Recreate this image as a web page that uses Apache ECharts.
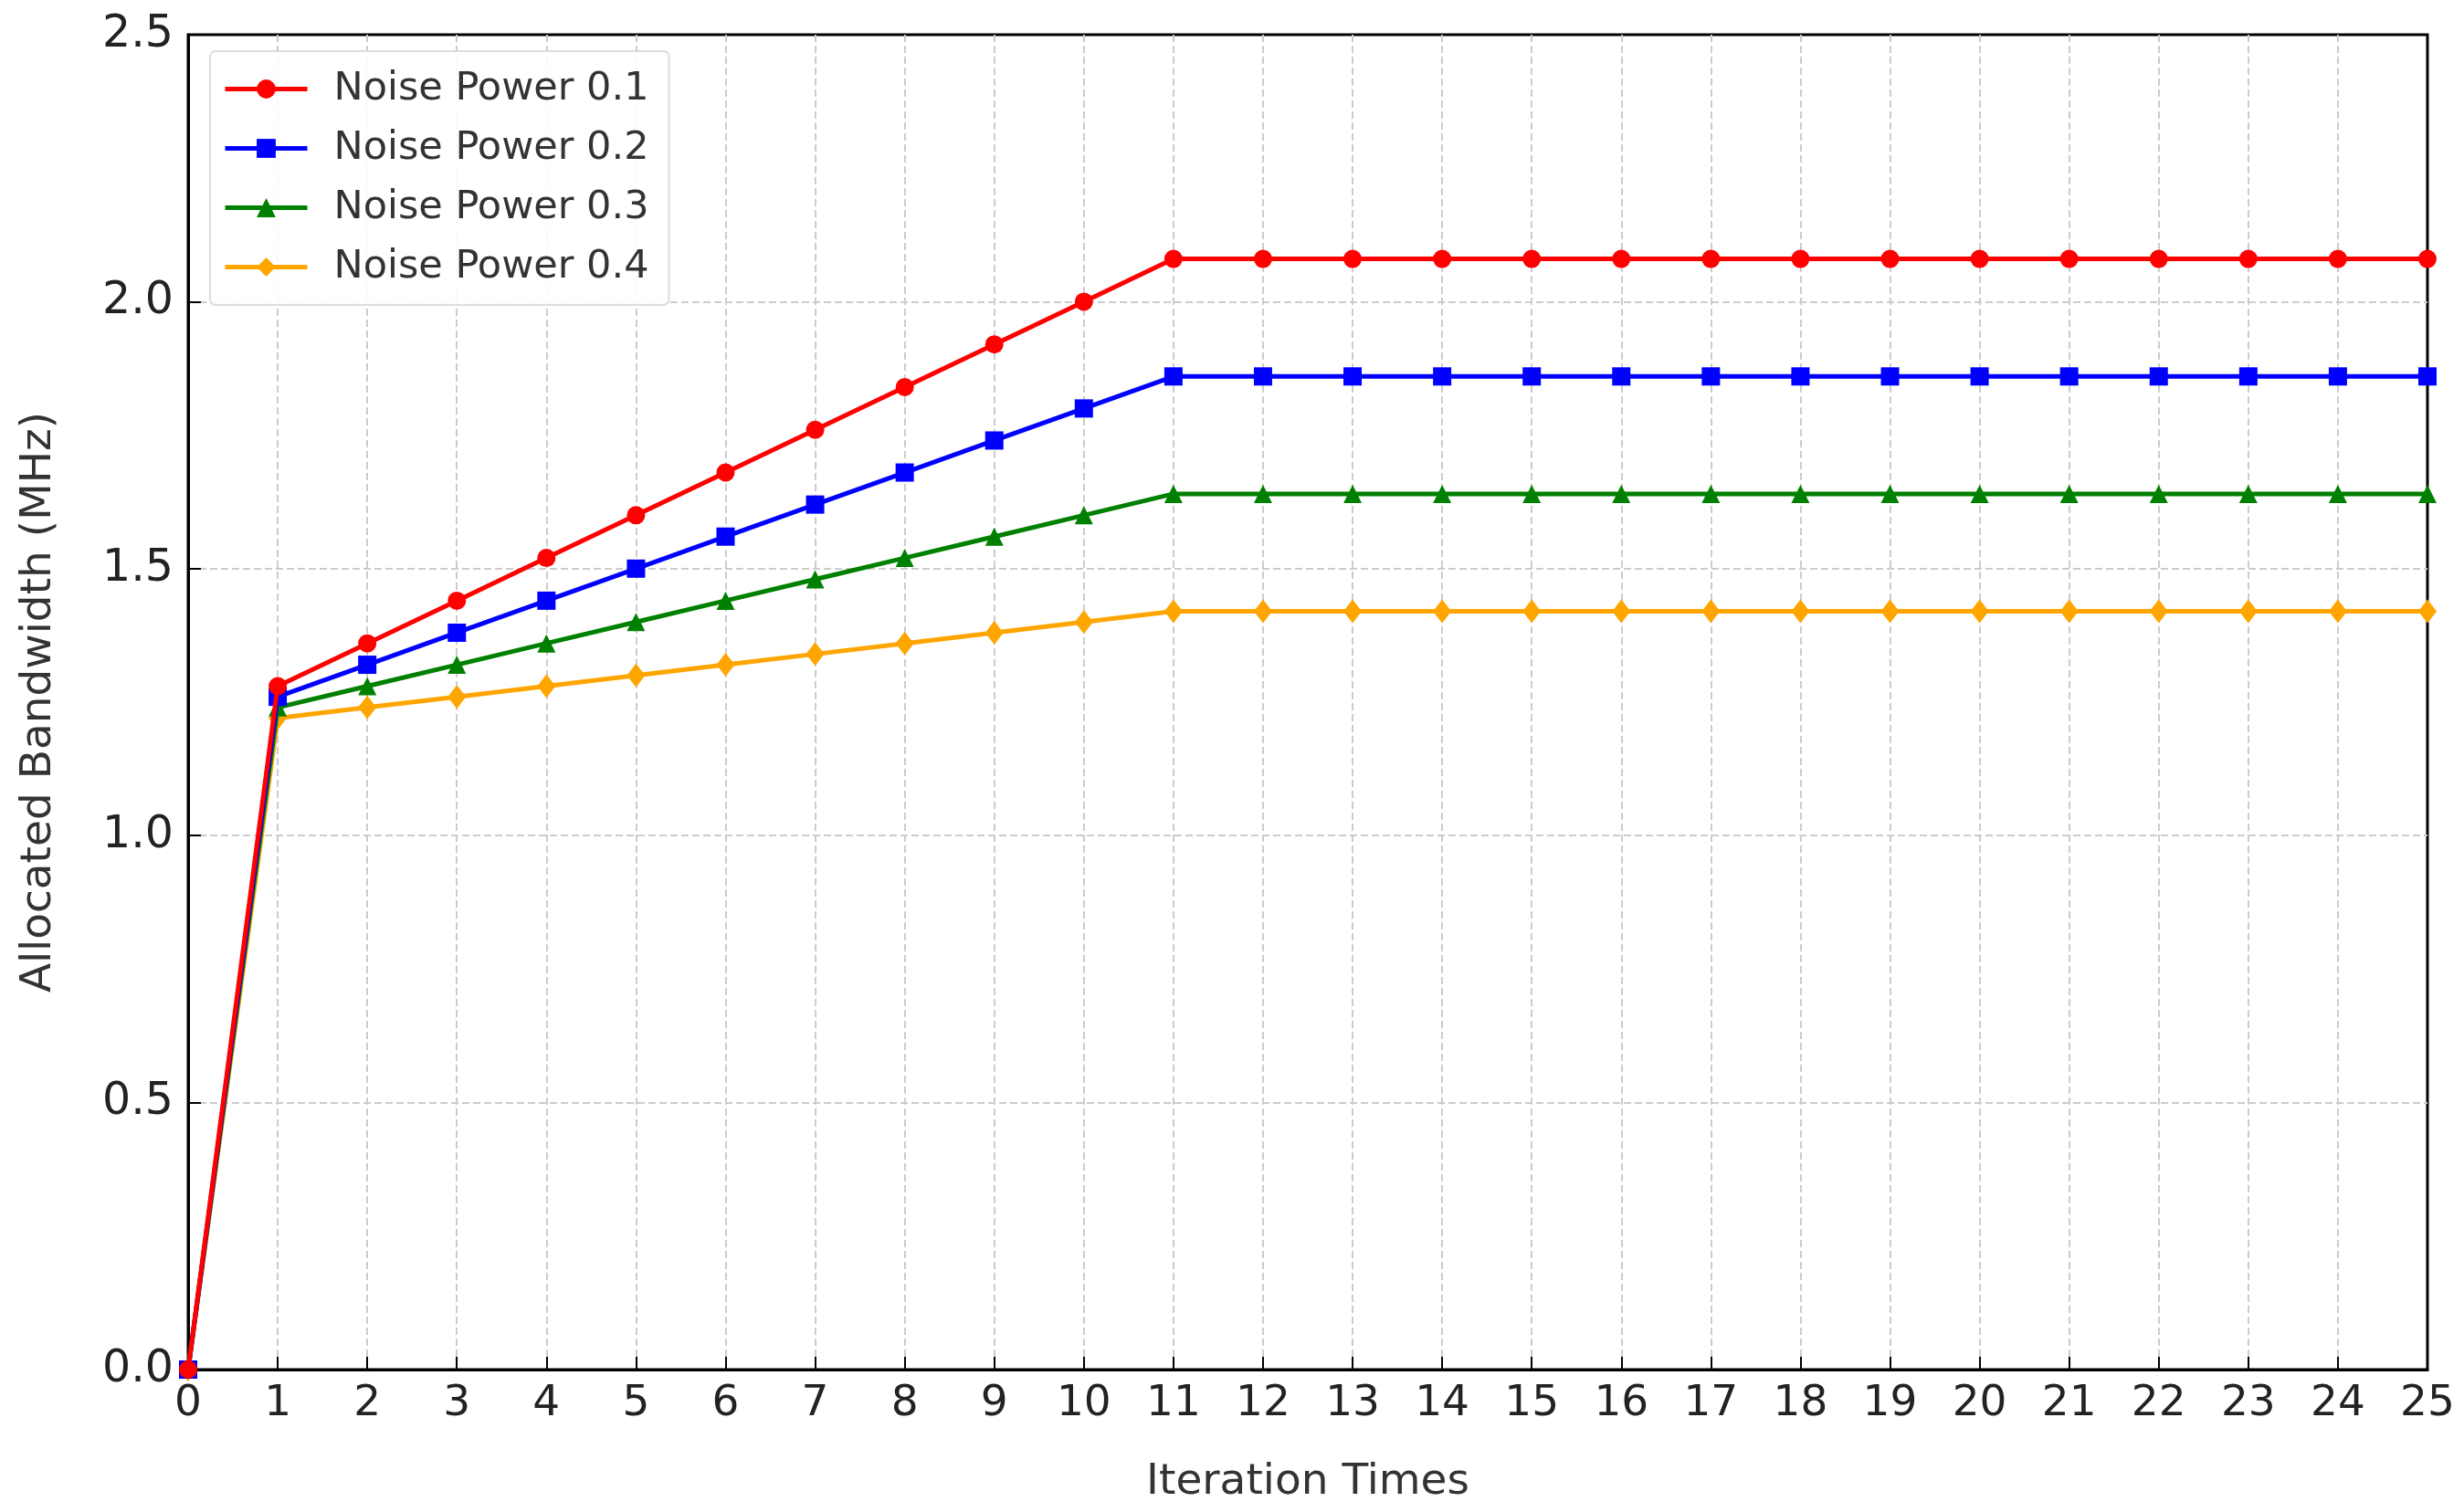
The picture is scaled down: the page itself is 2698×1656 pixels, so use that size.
<!DOCTYPE html>
<html>
<head>
<meta charset="utf-8">
<script src="https://cdn.jsdelivr.net/npm/echarts@6/dist/echarts.min.js"></script>
<style>html,body{margin:0;padding:0;background:#fff}#chart{width:2698px;height:1656px}</style>
</head>
<body>
<div id="chart"></div>
<script>
const iterations = [0,1,2,3,4,5,6,7,8,9,10,11,12,13,14,15,16,17,18,19,20,21,22,23,24,25];
const noise01 = [0,1.28,1.36,1.44,1.52,1.60,1.68,1.76,1.84,1.92,2.00,2.08,2.08,2.08,2.08,2.08,2.08,2.08,2.08,2.08,2.08,2.08,2.08,2.08,2.08,2.08];
const noise02 = [0,1.26,1.32,1.38,1.44,1.50,1.56,1.62,1.68,1.74,1.80,1.86,1.86,1.86,1.86,1.86,1.86,1.86,1.86,1.86,1.86,1.86,1.86,1.86,1.86,1.86];
const noise03 = [0,1.24,1.28,1.32,1.36,1.40,1.44,1.48,1.52,1.56,1.60,1.64,1.64,1.64,1.64,1.64,1.64,1.64,1.64,1.64,1.64,1.64,1.64,1.64,1.64,1.64];
const noise04 = [0,1.22,1.24,1.26,1.28,1.30,1.32,1.34,1.36,1.38,1.40,1.42,1.42,1.42,1.42,1.42,1.42,1.42,1.42,1.42,1.42,1.42,1.42,1.42,1.42,1.42];
const names = ['Noise Power 0.1','Noise Power 0.2','Noise Power 0.3','Noise Power 0.4'];
const colors = ['#ff0000','#0000ff','#008000','#ffa500'];
const symbols = ['circle','rect','triangle','diamond'];

const font = 'DejaVu Sans';
const chart = echarts.init(document.getElementById('chart'));

function makeSeries(i, values) {
  return {
    name: names[i],
    type: 'line',
    data: iterations.map((x, k) => [x, values[k]]),
    symbol: symbols[i],
    symbolSize: i === 3 ? [20, 26] : 20,
    lineStyle: { width: 5, color: colors[i] },
    itemStyle: { color: colors[i] },
    z: 10 - i
  };
}

chart.setOption({
  animation: false,
  textStyle: { fontFamily: font },
  grid: { left: 206, right: 40, top: 38, bottom: 156, show: true, borderColor: '#000', borderWidth: 3 },
  legend: {
    orient: 'vertical', left: 230, top: 56,
    itemWidth: 90, itemHeight: 26, itemGap: 22,
    padding: [20, 22, 20, 14],
    backgroundColor: 'rgba(255,255,255,0.9)', borderColor: '#ddd', borderWidth: 2, borderRadius: 6,
    lineStyle: { width: 5 },
    textStyle: { fontSize: 43, color: '#333', fontFamily: font, padding: [0, 0, 0, 24] }
  },
  xAxis: {
    type: 'value', min: 0, max: 25, interval: 1,
    name: 'Iteration Times', nameLocation: 'middle', nameGap: 100,
    nameTextStyle: { fontSize: 47, color: '#333' },
    axisLine: { lineStyle: { color: '#000', width: 3 } },
    axisTick: { inside: true, length: 14, lineStyle: { color: '#000', width: 2 } },
    axisLabel: { fontSize: 47, color: '#222', margin: 14 },
    splitLine: { show: true, showMinLine: false, showMaxLine: false, lineStyle: { type: 'dashed', color: '#ccc', width: 2 } }
  },
  yAxis: {
    type: 'value', min: 0, max: 2.5, interval: 0.5,
    name: 'Allocated Bandwidth (MHz)', nameLocation: 'middle', nameGap: 140,
    nameTextStyle: { fontSize: 47, color: '#333' },
    axisLine: { show: true, lineStyle: { color: '#000', width: 3 } },
    axisTick: { show: true, inside: true, length: 14, lineStyle: { color: '#000', width: 2 } },
    axisLabel: { fontSize: 49, color: '#222', margin: 16, formatter: v => v.toFixed(1) },
    splitLine: { show: true, showMinLine: false, showMaxLine: false, lineStyle: { type: 'dashed', color: '#ccc', width: 2 } }
  },
  series: [
    makeSeries(0, noise01),
    makeSeries(1, noise02),
    makeSeries(2, noise03),
    makeSeries(3, noise04)
  ]
});
</script>
</body>
</html>
